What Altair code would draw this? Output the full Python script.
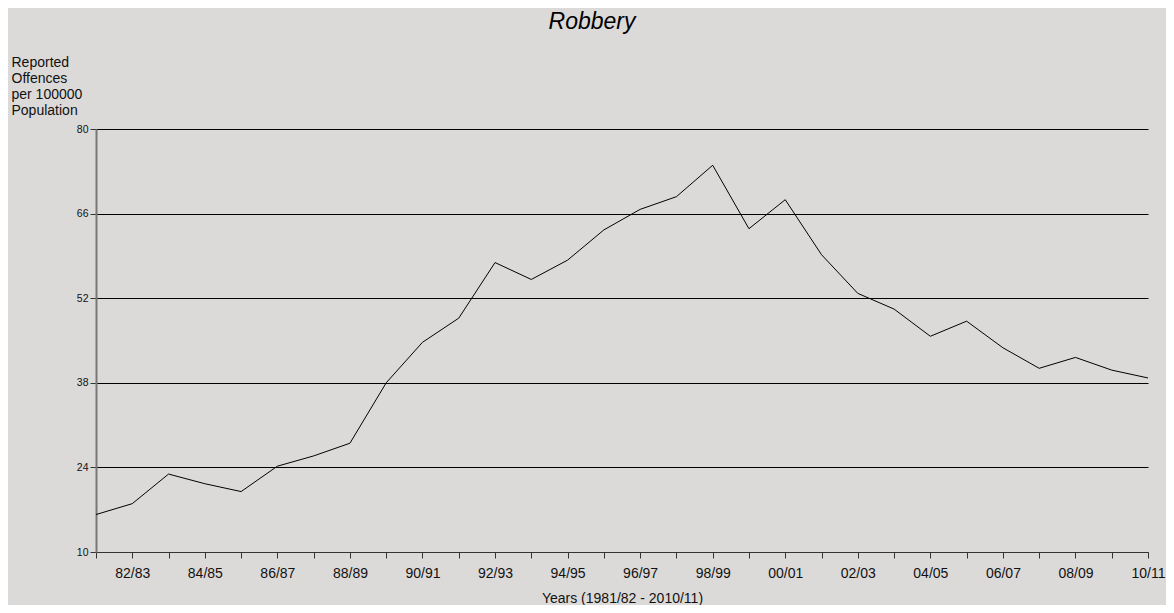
import altair as alt
import pandas as pd

seasons = ["81/82", "82/83", "83/84", "84/85", "85/86", "86/87", "87/88", "88/89",
           "89/90", "90/91", "91/92", "92/93", "93/94", "94/95", "95/96", "96/97",
           "97/98", "98/99", "99/00", "00/01", "01/02", "02/03", "03/04", "04/05",
           "05/06", "06/07", "07/08", "08/09", "09/10", "10/11"]
robbery = [16.2, 18.0, 22.9, 21.3, 20.0, 24.2, 25.9, 28.0, 38.0, 44.7,
           48.7, 57.9, 55.1, 58.3, 63.3, 66.7, 68.8, 74.0, 63.5, 68.3,
           59.2, 52.8, 50.2, 45.7, 48.2, 43.8, 40.4, 42.2, 40.1, 38.8]
y_ticks = [10, 24, 38, 52, 66, 80]
chart_title = ["Robbery"]

df = pd.DataFrame({"season": seasons, "value": robbery})
title_df = pd.DataFrame({"t": chart_title})

FONT = "Liberation Sans"

line = alt.Chart(df).mark_line(color="black", strokeWidth=1).encode(
    x=alt.X("season:O", sort=seasons,
            scale=alt.Scale(type="point", padding=0),
            axis=alt.Axis(title="Years (1981/82 - 2010/11)", labelAngle=0,
                          labelExpr="parseInt(substring(datum.label,0,2)) % 2 == 0 ? datum.label : ''",
                          labelFontSize=14, labelFont=FONT, labelColor="#111",
                          tickSize=6, tickColor="#333", domainColor="#333",
                          labelPadding=8, titlePadding=11,
                          titleFont=FONT, titleFontSize=14, titleFontWeight="normal",
                          titleColor="#111", grid=False)),
    y=alt.Y("value:Q", scale=alt.Scale(domain=[10, 80], nice=False, zero=False),
            axis=alt.Axis(values=y_ticks, grid=True, gridColor="black", gridOpacity=1,
                          gridWidth=1, labelFontSize=10.5, labelFont=FONT, labelColor="#111",
                          tickSize=6, tickColor="#333", domainColor="#777", domainWidth=2,
                          labelPadding=2,
                          title=["Reported", "Offences", "per 100000", "Population"],
                          titleAngle=0, titleAlign="left", titleBaseline="alphabetic",
                          titleX=-85, titleY=-63, titleFont=FONT, titleFontSize=14,
                          titleFontWeight="normal", titleColor="#111", titleLineHeight=16.3)),
)

title = alt.Chart(title_df).mark_text(
    font=FONT, fontSize=23, fontStyle="italic", color="black",
    align="center", baseline="alphabetic"
).encode(text="t:N", x=alt.value(496), y=alt.value(-100))

chart = alt.layer(line, title).properties(
    width=1052, height=423,
    background="#dcdad8",
    padding={"left": 88, "top": 121, "right": 18, "bottom": 53},
    autosize=alt.AutoSizeParams(type="none"),
).configure_view(stroke=None)

chart.save("out.html", embed_options={"renderer": "svg", "actions": False})
